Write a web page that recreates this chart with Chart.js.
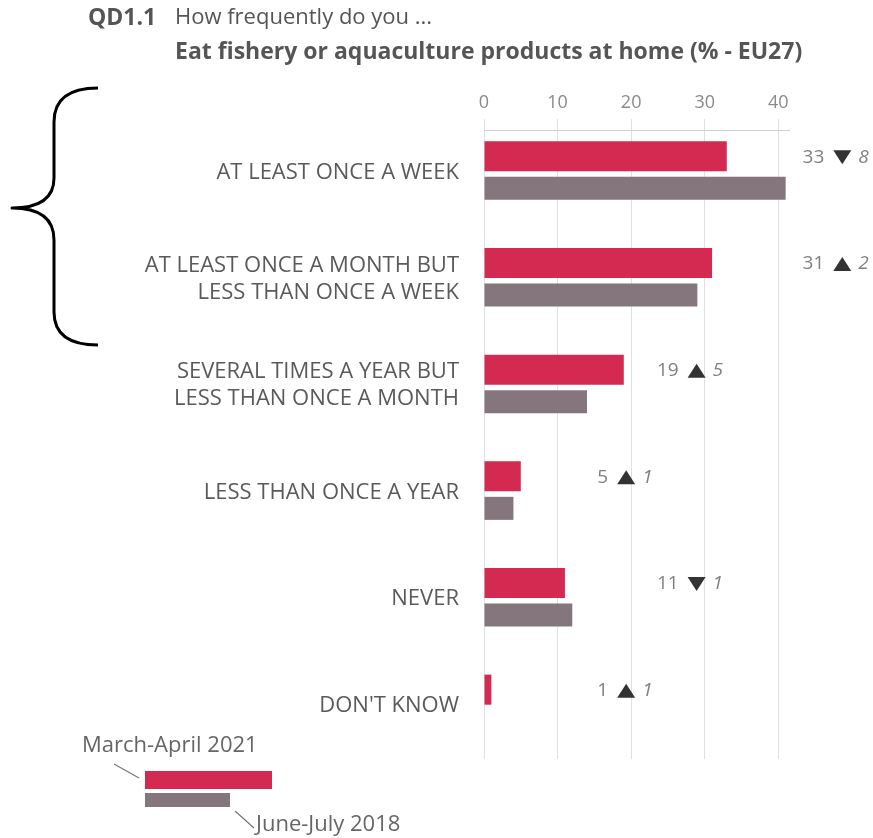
<!DOCTYPE html>
<html>
<head>
<meta charset="utf-8">
<script src="https://cdn.jsdelivr.net/npm/chart.js@4/dist/chart.umd.min.js"></script>
<style>
  body { margin: 0; background: #fff; }
  canvas { display: block; }
</style>
</head>
<body>
<canvas id="freq" width="873" height="838"></canvas>
<script>
'use strict';
const categories = [
  'AT LEAST ONCE A WEEK',
  ['AT LEAST ONCE A MONTH BUT', 'LESS THAN ONCE A WEEK'],
  ['SEVERAL TIMES A YEAR BUT', 'LESS THAN ONCE A MONTH'],
  'LESS THAN ONCE A YEAR',
  'NEVER',
  "DON'T KNOW",
];
const wave2021 = [33, 31, 19, 5, 11, 1];
const wave2018 = [41, 29, 14, 4, 12, 0];
const seriesNames = ['March-April 2021', 'June-July 2018'];
const xTicks = [0, 10, 20, 30, 40];

const RED = '#d42a52';
const GREY = '#84767c';
const FONT = "'Open Sans', 'DejaVu Sans', sans-serif";

// where the change notes start, in axis units
const noteAt = [43.3, 43.3, 23.5, 15.4, 23.5, 15.4];

const decorations = {
  id: 'decorations',
  afterDraw(chart) {
    const { ctx, chartArea, scales } = chart;
    const x = scales.x;
    ctx.save();

    // title
    ctx.fillStyle = '#555';
    ctx.textBaseline = 'middle';
    ctx.textAlign = 'left';
    ctx.font = `bold 23px ${FONT}`;
    ctx.fillText('QD1.1', 88, 18);
    ctx.font = `22px ${FONT}`;
    ctx.fillText('How frequently do you ...', 175, 18);
    ctx.font = `bold 23px ${FONT}`;
    ctx.fillText('Eat fishery or aquaculture products at home (% - EU27)', 175, 52);

    // top axis line
    ctx.strokeStyle = '#d0d0d0';
    ctx.lineWidth = 1;
    ctx.beginPath();
    ctx.moveTo(x.getPixelForValue(0), chartArea.top + 11.5);
    ctx.lineTo(chartArea.right - 3, chartArea.top + 11.5);
    ctx.stroke();

    // change notes
    const bars = chart.getDatasetMeta(0).data;
    wave2021.forEach((v, i) => {
      const diff = v - wave2018[i];
      let px = x.getPixelForValue(noteAt[i]);
      const py = bars[i].y + 1;
      ctx.font = `19px ${FONT}`;
      ctx.fillStyle = '#808080';
      ctx.fillText(String(v), px, py);
      px += ctx.measureText(String(v)).width + 9;
      ctx.fillStyle = '#333';
      ctx.beginPath();
      if (diff >= 0) {
        ctx.moveTo(px, py + 7);
        ctx.lineTo(px + 18, py + 7);
        ctx.lineTo(px + 9, py - 7);
      } else {
        ctx.moveTo(px, py - 7);
        ctx.lineTo(px + 18, py - 7);
        ctx.lineTo(px + 9, py + 7);
      }
      ctx.closePath();
      ctx.fill();
      px += 25;
      ctx.font = `italic 19px ${FONT}`;
      ctx.fillStyle = '#808080';
      ctx.fillText(String(Math.abs(diff)), px, py);
    });

    // legend
    ctx.font = `22px ${FONT}`;
    ctx.fillStyle = '#666';
    ctx.fillText(seriesNames[0], 82, 746);
    ctx.fillText(seriesNames[1], 256, 825);
    ctx.strokeStyle = '#777';
    ctx.lineWidth = 1.2;
    ctx.beginPath();
    ctx.moveTo(114, 764);
    ctx.lineTo(139, 778);
    ctx.moveTo(235, 811);
    ctx.lineTo(254, 828);
    ctx.stroke();
    ctx.fillStyle = RED;
    ctx.fillRect(145, 771, 127, 18);
    ctx.fillStyle = GREY;
    ctx.fillRect(145, 793, 85, 14);

    // brace
    ctx.strokeStyle = '#000';
    ctx.lineWidth = 3;
    ctx.lineJoin = 'round';
    ctx.beginPath();
    ctx.moveTo(98, 88);
    ctx.quadraticCurveTo(54, 88, 54, 122);
    ctx.lineTo(54, 178);
    ctx.quadraticCurveTo(54, 208, 12, 208);
    ctx.quadraticCurveTo(54, 208, 54, 240);
    ctx.lineTo(54, 312);
    ctx.quadraticCurveTo(54, 345, 98, 345);
    ctx.stroke();

    ctx.restore();
  },
};

new Chart(document.getElementById('freq'), {
  type: 'bar',
  data: {
    labels: categories,
    datasets: [
      {
        label: seriesNames[0],
        data: wave2021,
        backgroundColor: RED,
        categoryPercentage: 0.6,
        barPercentage: 0.94,
      },
      {
        label: seriesNames[1],
        data: wave2018,
        backgroundColor: GREY,
        categoryPercentage: 0.6,
        barPercentage: 0.72,
      },
    ],
  },
  options: {
    indexAxis: 'y',
    responsive: false,
    animation: false,
    layout: { padding: { top: 0, left: 0, right: 80, bottom: 79 } },
    plugins: {
      legend: { display: false },
      tooltip: { enabled: false },
    },
    scales: {
      x: {
        position: 'top',
        min: 0,
        max: 42,
        afterFit(scale) { scale.height = 119; },
        afterBuildTicks(scale) {
          scale.ticks = xTicks.map((v) => ({ value: v }));
        },
        ticks: {
          color: '#8a8a8a',
          font: { family: FONT, size: 18 },
          padding: 5,
        },
        grid: { color: '#e0e0e0', drawTicks: false },
        border: { display: false },
      },
      y: {
        afterFit(scale) { scale.width = 484; },
        ticks: {
          color: '#5a5a5a',
          font: { family: FONT, size: 22, lineHeight: 1.23 },
          padding: 17,
        },
        grid: { display: false },
        border: { display: false },
      },
    },
  },
  plugins: [decorations],
});
</script>
</body>
</html>
